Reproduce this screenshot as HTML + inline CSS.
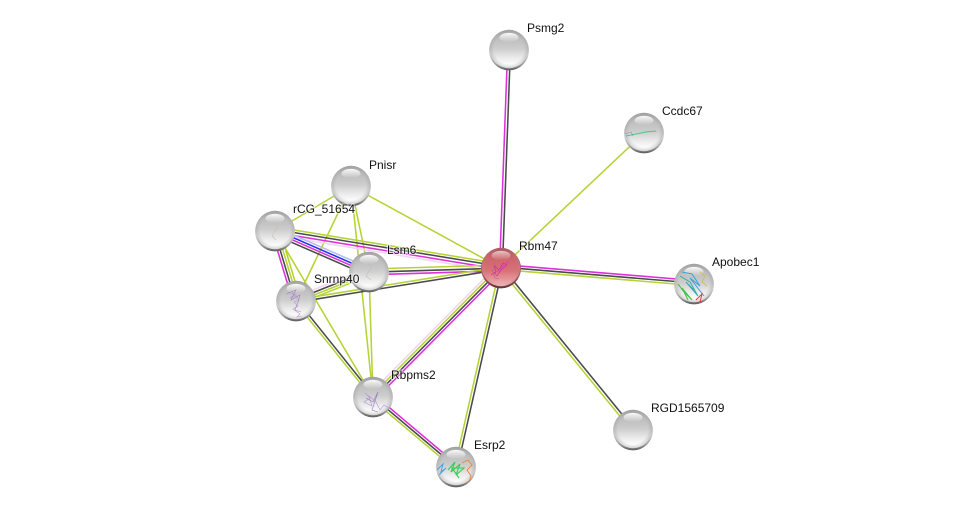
<!DOCTYPE html>
<html><head><meta charset="utf-8"><style>
html,body{margin:0;padding:0;background:#fff;width:976px;height:512px;overflow:hidden}
svg{display:block}
text{font-family:"Liberation Sans",sans-serif;font-size:12px;fill:#111;stroke:#fff;stroke-width:2px;stroke-opacity:.6;paint-order:stroke}
.o{stroke:#b5d334}.d{stroke:#4a4a4a}.m{stroke:#dc30dc}.p{stroke:#f3d4f3}.b{stroke:#2233e8}.l{stroke:#b4bbf4}
line{stroke-width:1.55}
polyline{fill:none;stroke-width:.6;opacity:.95}
</style></head><body>
<svg width="976" height="512" viewBox="0 0 976 512" xmlns="http://www.w3.org/2000/svg">
<defs>
<linearGradient id="shad" x1="0" y1="0" x2="0" y2="1"><stop offset="0" stop-color="#909090"/><stop offset=".6" stop-color="#d0d0d0"/><stop offset=".84" stop-color="#a0a0a0"/><stop offset="1" stop-color="#5c5c5c"/></linearGradient>
<linearGradient id="body" x1="0" y1="0" x2="0" y2="1"><stop offset="0" stop-color="#a6a6a6"/><stop offset=".2" stop-color="#bcbcbc"/><stop offset=".48" stop-color="#cccccc"/><stop offset=".74" stop-color="#ececec"/><stop offset=".93" stop-color="#ffffff"/><stop offset="1" stop-color="#f2f2f2"/></linearGradient>
<radialGradient id="rim" cx=".5" cy=".5" r=".5"><stop offset="0" stop-color="#999" stop-opacity="0"/><stop offset=".78" stop-color="#999" stop-opacity="0"/><stop offset="1" stop-color="#999" stop-opacity=".4"/></radialGradient>
<linearGradient id="hi" x1="0" y1="0" x2="0" y2="1"><stop offset="0" stop-color="#fff" stop-opacity=".95"/><stop offset="1" stop-color="#fff" stop-opacity="0"/></linearGradient>
<linearGradient id="rshad" x1="0" y1="0" x2="0" y2="1"><stop offset="0" stop-color="#8a2a32"/><stop offset=".6" stop-color="#c06068"/><stop offset="1" stop-color="#6a3036"/></linearGradient>
<linearGradient id="rbody" x1="0" y1="0" x2="0" y2="1"><stop offset="0" stop-color="#b04e56"/><stop offset=".25" stop-color="#cc646a"/><stop offset=".6" stop-color="#d87278"/><stop offset=".85" stop-color="#ea9a9c"/><stop offset="1" stop-color="#f4bcbc"/></linearGradient>
<g id="ball">
<circle cx="0" cy="0.4" r="20" fill="url(#shad)"/>
<circle cx="0" cy="-1" r="19.2" fill="url(#body)"/>
<circle cx="0" cy="-1" r="19.2" fill="url(#rim)"/>
<ellipse cx="0" cy="-12.5" rx="9.5" ry="4.6" fill="url(#hi)"/>
</g>
<g id="rball">
<circle cx="0" cy="0.4" r="20" fill="url(#rshad)"/>
<circle cx="0" cy="-1" r="19.2" fill="url(#rbody)"/>
<circle cx="0" cy="-1" r="19.2" fill="url(#rim)" opacity=".6"/>
<ellipse cx="0" cy="-12.5" rx="9.5" ry="4.6" fill="url(#hi)" opacity=".7"/>
</g>
</defs>
<rect width="976" height="512" fill="#fff"/>

<line class="m" x1="507.6" y1="50" x2="499.6" y2="268"/><line class="d" x1="510.4" y1="50" x2="502.4" y2="268"/>
<line class="o" x1="644" y1="133" x2="501" y2="268"/>
<line class="m" x1="694.3" y1="280.5" x2="501.3" y2="264.5"/><line class="d" x1="694" y1="283" x2="501" y2="267"/><line class="o" x1="693.9" y1="285.5" x2="500.9" y2="269.5"/>
<line class="d" x1="634.1" y1="429.1" x2="502.1" y2="267.1"/><line class="o" x1="631.9" y1="430.9" x2="499.9" y2="268.9"/>
<line class="o" x1="454.7" y1="467" x2="499.7" y2="268"/><line class="d" x1="457.5" y1="467" x2="502.5" y2="268"/>
<line class="p" x1="369.8" y1="393.8" x2="497.8" y2="264.8"/><line class="o" x1="371.6" y1="395.6" x2="499.6" y2="266.6"/><line class="d" x1="373.4" y1="397.4" x2="501.4" y2="268.4"/><line class="m" x1="375.2" y1="399.2" x2="503.2" y2="270.2"/>
<line class="m" x1="374.6" y1="395.1" x2="457.6" y2="465.1"/><line class="d" x1="373" y1="397" x2="456" y2="467"/><line class="o" x1="371.4" y1="398.9" x2="454.4" y2="468.9"/>
<line class="o" x1="351" y1="186" x2="501" y2="268"/>
<line class="o" x1="351" y1="186" x2="275" y2="231"/>
<line class="o" x1="351" y1="186" x2="296" y2="301"/>
<line class="o" x1="351" y1="186" x2="369" y2="272"/>
<line class="o" x1="351" y1="186" x2="373" y2="397"/>
<line class="o" x1="369" y1="272" x2="373" y2="397"/>
<line class="o" x1="275" y1="231" x2="373" y2="397"/>
<line class="o" x1="295" y1="301.8" x2="372" y2="397.8"/><line class="d" x1="297" y1="300.2" x2="374" y2="396.2"/>
<line class="o" x1="275.6" y1="227" x2="501.6" y2="264"/><line class="d" x1="275.2" y1="229.5" x2="501.2" y2="266.5"/><line class="m" x1="274.8" y1="232.5" x2="500.8" y2="269.5"/><line class="p" x1="274.4" y1="235" x2="500.4" y2="272"/>
<line class="o" x1="369" y1="269" x2="501" y2="265"/><line class="d" x1="369" y1="272.2" x2="501" y2="268.2"/><line class="m" x1="369" y1="274.8" x2="501" y2="270.8"/>
<line class="o" x1="295.8" y1="299.7" x2="500.8" y2="266.7"/><line class="d" x1="296.2" y1="302.3" x2="501.2" y2="269.3"/>
<line class="p" x1="294.5" y1="297.3" x2="367.5" y2="268.3"/><line class="d" x1="295.5" y1="299.6" x2="368.5" y2="270.6"/><line class="o" x1="296.4" y1="302" x2="369.4" y2="273"/><line class="o" x1="297.3" y1="304.2" x2="370.3" y2="275.2"/>
<line class="l" x1="276.5" y1="227.6" x2="370.5" y2="268.6"/><line class="b" x1="275.5" y1="229.9" x2="369.5" y2="270.9"/><line class="m" x1="274.5" y1="232.1" x2="368.5" y2="273.1"/><line class="d" x1="273.5" y1="234.4" x2="367.5" y2="275.4"/>
<line class="m" x1="272" y1="232" x2="293" y2="302"/><line class="d" x1="274.5" y1="231.2" x2="295.5" y2="301.2"/><line class="o" x1="277" y1="230.4" x2="298" y2="300.4"/><line class="o" x1="279.5" y1="229.6" x2="300.5" y2="299.6"/>

<use href="#ball" x="509" y="50"/>
<use href="#ball" x="644" y="133"/>
<use href="#ball" x="694" y="284"/>
<use href="#ball" x="633" y="430"/>
<use href="#ball" x="456" y="467"/>
<use href="#ball" x="373" y="397"/>
<use href="#ball" x="296" y="301"/>
<use href="#ball" x="369" y="272"/>
<use href="#ball" x="275" y="231"/>
<use href="#ball" x="351" y="186"/>
<use href="#rball" x="501" y="268"/>

<polyline stroke="#d020a0" points="491,275 496,272 494,266 499,270 503,263 507,265 501,270 497,276 494,272"/>
<polyline stroke="#e040b0" style="stroke-width:1.3" points="497,272 501,268 505,264 509,262"/>
<polyline stroke="#b06090" points="494,263 497,268 492,270 495,278 499,279"/>
<polyline stroke="#b89ccc" points="288,292 294,295 290,298 297,296 292,292 299,300 294,302 298,306 293,309 300,314 297,317 302,316"/>
<polyline stroke="#a080c0" points="286,294 296,290 291,300 300,295 298,302 295,310 301,312"/>
<polyline stroke="#b090d0" points="365,393 370,398 364,402 372,406 369,396 376,402 380,410 384,405 389,408"/>
<polyline stroke="#9070b8" points="366,398 373,402 376,396 378,392 372,410 378,412"/>
<polyline stroke="#c8bcb0" points="274,223 278,226 272,236 276,240"/>
<polyline stroke="#c4bcb0" points="368,264 372,266 366,276 371,280"/>
<polyline stroke="#40a0e0" style="stroke-width:1" points="437,470 443,464 441,472 446,468 439,475"/>
<polyline stroke="#30c850" style="stroke-width:1.1" points="448,470 455,462 451,472 460,464 456,475 464,468 452,468 459,478"/>
<polyline stroke="#f08030" style="stroke-width:.9" points="462,463 468,460 472,465 467,470 471,476 469,482"/>
<polyline stroke="#30a8a8" style="stroke-width:1" points="680,276 690,282 698,296 686,282 694,290"/>
<polyline stroke="#30a0d8" style="stroke-width:1" points="682,272 692,274 700,286 690,278 704,296"/>
<polyline stroke="#40c040" style="stroke-width:1.1" points="678,284 684,292 692,300 682,288 688,300"/>
<polyline stroke="#e03030" style="stroke-width:1" points="696,300 702,294 700,302"/>
<polyline stroke="#d0c050" style="stroke-width:.9" points="700,272 705,276 702,282 707,286"/>
<polyline stroke="#40c880" style="stroke-width:.9" points="626,136 636,134 646,132 656,131"/>
<polyline stroke="#a080d0" points="625,134 631,132 633,136"/>

<text x="527" y="32">Psmg2</text>
<text x="662" y="115">Ccdc67</text>
<text x="369" y="169">Pnisr</text>
<text x="293" y="213">rCG_51654</text>
<text x="387" y="254">Lsm6</text>
<text x="519" y="250">Rbm47</text>
<text x="712" y="266">Apobec1</text>
<text x="314" y="283">Snrnp40</text>
<text x="391" y="379">Rbpms2</text>
<text x="651" y="412">RGD1565709</text>
<text x="474" y="449">Esrp2</text>
</svg>
</body></html>
